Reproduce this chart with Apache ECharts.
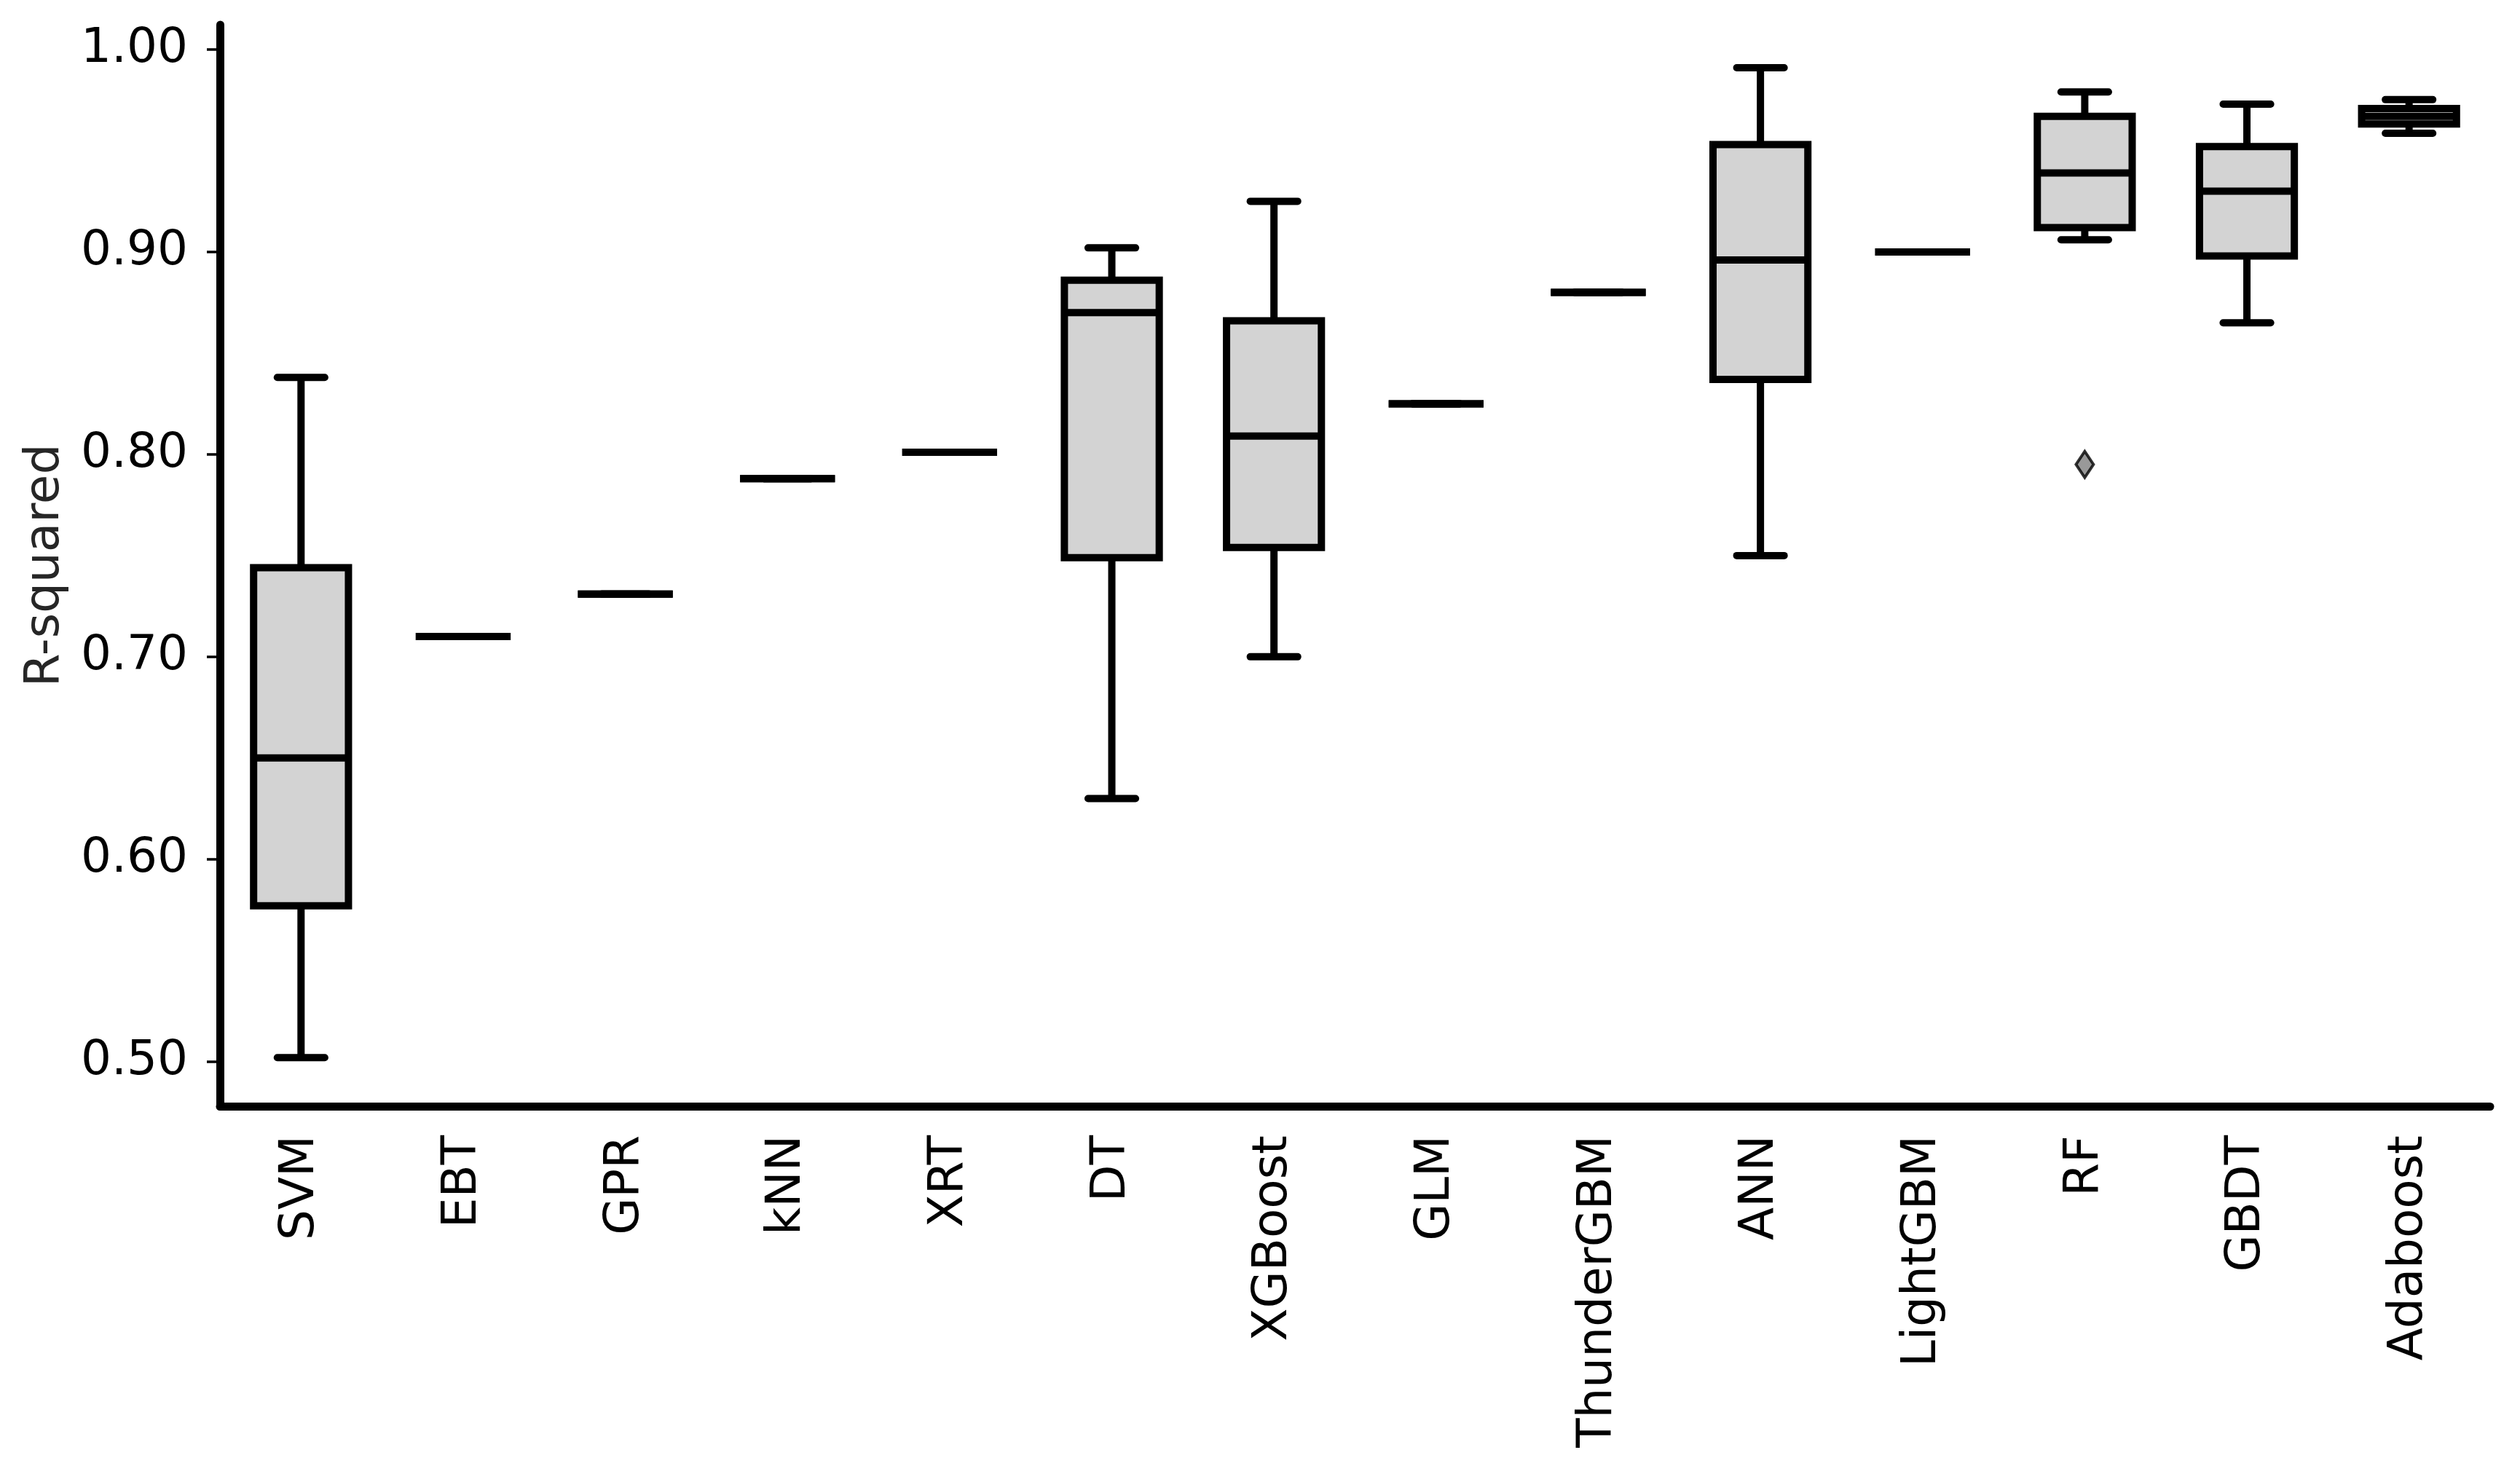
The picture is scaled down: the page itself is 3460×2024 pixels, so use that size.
<!DOCTYPE html>
<html>
<head>
<meta charset="utf-8">
<title>R-squared by model</title>
<script src="https://cdn.jsdelivr.net/npm/echarts@6/dist/echarts.min.js"></script>
<style>
  html, body { margin: 0; padding: 0; background: #fff; }
  #chart { width: 3460px; height: 2024px; }
</style>
</head>
<body>
<div id="chart"></div>
<script>
const models = ['SVM', 'EBT', 'GPR', 'kNN', 'XRT', 'DT', 'XGBoost', 'GLM', 'ThunderGBM', 'ANN', 'LightGBM', 'RF', 'GBDT', 'Adaboost']

const whiskerLow = [0.502, 0.710, 0.731, 0.788, 0.801, 0.630, 0.700, 0.825, 0.880, 0.750, 0.900, 0.906, 0.865, 0.9586]
const q1 = [0.577, 0.710, 0.731, 0.788, 0.801, 0.749, 0.754, 0.825, 0.880, 0.837, 0.900, 0.912, 0.898, 0.9632]
const median = [0.650, 0.710, 0.731, 0.788, 0.801, 0.870, 0.809, 0.825, 0.880, 0.896, 0.900, 0.939, 0.930, 0.967]
const q3 = [0.744, 0.710, 0.731, 0.788, 0.801, 0.886, 0.866, 0.825, 0.880, 0.953, 0.900, 0.967, 0.952, 0.9708]
const whiskerHigh = [0.838, 0.710, 0.731, 0.788, 0.801, 0.902, 0.925, 0.825, 0.880, 0.991, 0.900, 0.979, 0.973, 0.9752]

const outlierModels = ['RF']
const outlierValues = [0.795]

const yTicks = [0.5, 0.6, 0.7, 0.8, 0.9, 1.0]

const FONT = 'DejaVu Sans'
const LINE_W = 10

const boxData = models.map((m, i) => [i, whiskerLow[i], q1[i], median[i], q3[i], whiskerHigh[i]])
const outlierData = outlierModels.map((m, i) => [models.indexOf(m), outlierValues[i]])

const renderBox = (params, api) => {
  const idx = api.value(0)
  const band = api.size([1, 0])[0]
  const boxW = band * 0.585
  const capW = boxW / 2

  const pLow = api.coord([idx, api.value(1)])
  const pQ1 = api.coord([idx, api.value(2)])
  const pMed = api.coord([idx, api.value(3)])
  const pQ3 = api.coord([idx, api.value(4)])
  const pHigh = api.coord([idx, api.value(5)])
  const cx = pMed[0]

  const lineStyle = { stroke: '#000', lineWidth: LINE_W, fill: null }

  return {
    type: 'group',
    children: [
      // whiskers
      {
        type: 'line',
        shape: { x1: cx, y1: pQ3[1], x2: cx, y2: pHigh[1] },
        style: { ...lineStyle, lineCap: 'butt' }
      },
      {
        type: 'line',
        shape: { x1: cx, y1: pQ1[1], x2: cx, y2: pLow[1] },
        style: { ...lineStyle, lineCap: 'butt' }
      },
      // caps
      {
        type: 'line',
        shape: { x1: cx - capW / 2, y1: pHigh[1], x2: cx + capW / 2, y2: pHigh[1] },
        style: { ...lineStyle, lineCap: 'round' }
      },
      {
        type: 'line',
        shape: { x1: cx - capW / 2, y1: pLow[1], x2: cx + capW / 2, y2: pLow[1] },
        style: { ...lineStyle, lineCap: 'round' }
      },
      // box + median
      {
        type: 'rect',
        shape: { x: cx - boxW / 2, y: pQ3[1], width: boxW, height: pQ1[1] - pQ3[1] },
        style: { fill: '#d3d3d3', stroke: '#000', lineWidth: LINE_W, lineJoin: 'miter' }
      },
      {
        type: 'line',
        shape: { x1: cx - boxW / 2, y1: pMed[1], x2: cx + boxW / 2, y2: pMed[1] },
        style: { ...lineStyle, lineCap: 'butt' }
      }
    ]
  }
}

const chart = echarts.init(document.getElementById('chart'), null, { renderer: 'canvas' })

const option = {
  backgroundColor: '#fff',
  animation: false,
  grid: {
    left: 302,
    right: 41,
    top: 34,
    bottom: 505,
    containLabel: false
  },
  xAxis: {
    type: 'category',
    data: models,
    boundaryGap: true,
    axisLine: {
      lineStyle: { color: '#000', width: 11 }
    },
    axisTick: {
      alignWithLabel: true,
      length: 18,
      lineStyle: { color: '#000', width: 3.5 }
    },
    axisLabel: {
      rotate: 90,
      margin: 40,
      fontSize: 66,
      fontFamily: FONT,
      color: '#000',
      interval: 0
    },
    splitLine: { show: false }
  },
  yAxis: {
    type: 'value',
    min: 0.478,
    max: 1.0122,
    name: 'R-squared',
    nameLocation: 'middle',
    nameGap: 206,
    nameTextStyle: {
      fontSize: 66,
      fontFamily: FONT,
      color: '#262626'
    },
    axisLine: {
      show: true,
      lineStyle: { color: '#000', width: 11 }
    },
    axisTick: {
      show: true,
      length: 18,
      customValues: yTicks,
      lineStyle: { color: '#000', width: 3.5 }
    },
    axisLabel: {
      customValues: yTicks,
      margin: 44,
      fontSize: 66,
      fontFamily: FONT,
      color: '#000',
      formatter: (v) => v.toFixed(2)
    },
    splitLine: { show: false }
  },
  series: [
    {
      name: 'R-squared',
      type: 'custom',
      renderItem: renderBox,
      encode: { x: 0, y: [1, 2, 3, 4, 5] },
      data: boxData,
      z: 2
    },
    {
      name: 'Outliers',
      type: 'scatter',
      symbol: 'diamond',
      symbolSize: [24, 36],
      itemStyle: {
        color: '#808080',
        borderColor: '#000',
        borderWidth: 4
      },
      data: outlierData,
      z: 3
    }
  ]
}

chart.setOption(option)
</script>
</body>
</html>
